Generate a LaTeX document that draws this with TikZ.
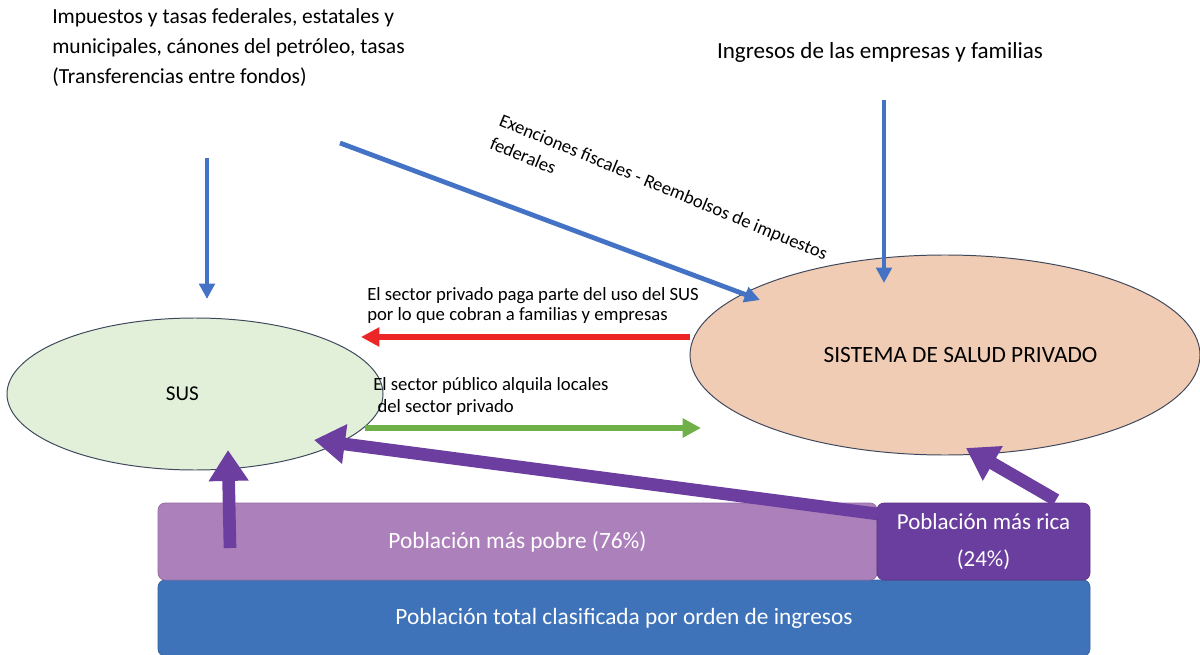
\documentclass[tikz,border=0pt]{standalone}
\usepackage{fontspec}
\setmainfont{Carlito}
\usetikzlibrary{arrows.meta,shapes.geometric,positioning}
\definecolor{flujoazul}{RGB}{68,114,196}
\definecolor{susverde}{RGB}{226,240,217}
\definecolor{privpiel}{RGB}{241,204,181}
\definecolor{borde}{RGB}{62,72,92}
\definecolor{pagorojo}{RGB}{236,38,38}
\definecolor{alquiler}{RGB}{112,176,72}
\definecolor{pobrelila}{RGB}{172,128,186}
\definecolor{ricamorado}{RGB}{106,62,158}
\definecolor{totalazul}{RGB}{62,114,185}
\definecolor{flechamorada}{RGB}{108,62,160}

\begin{document}
\begin{tikzpicture}[x=0.025cm, y=-0.025cm,
  fuente/.style={font=\fontsize{15.3}{21.3}\selectfont, align=left, inner sep=0pt},
  nota/.style={font=\fontsize{13.3}{14.5}\selectfont, align=left, inner sep=0pt},
  sistema/.style={ellipse, draw=borde, line width=0.7pt},
  franja/.style={rounded corners=5pt, draw=#1!85!black, fill=#1, line width=0.5pt, text=white,
    font=\fontsize{16.6}{22}\selectfont, align=center},
  flujo/.style={-{Triangle[length=11pt, width=11pt]}, line width=3.4pt, flujoazul},
  cobro/.style={-{Triangle[length=13pt, width=13pt]}, line width=4pt, #1},
  uso/.style={-{Triangle[length=22pt, width=27pt]}, line width=9pt, flechamorada}]
\useasboundingbox (0,0) rectangle (1200,655);

% fuentes de financiamiento
\node[fuente, anchor=north west] (impuestos) at (52,8)
  {Impuestos y tasas federales, estatales y\\municipales, cánones del petróleo, tasas\\(Transferencias entre fondos)};
\node[fuente, font=\fontsize{16.4}{20}\selectfont, anchor=center] (ingresos) at (880,52) {Ingresos de las empresas y familias};

% sistemas
\node[sistema, fill=susverde, minimum width=376*0.025cm, minimum height=152*0.025cm,
  font=\fontsize{15}{17}\selectfont] (sus) at (195,394) {\hspace*{-18pt}SUS};
\node[sistema, fill=privpiel, minimum width=510*0.025cm, minimum height=200*0.025cm,
  font=\fontsize{16.6}{19}\selectfont] (privado) at (945,355) {\hspace*{22pt}SISTEMA DE SALUD PRIVADO};

% poblacion
\node[franja=totalazul, minimum width=932*0.025cm, minimum height=76*0.025cm] (total) at (624,618)
  {Población total clasificada por orden de ingresos};
\node[franja=pobrelila, minimum width=719*0.025cm, minimum height=77*0.025cm] (pobre) at (517.5,541.5)
  {Población más pobre (76\%)};
\node[franja=ricamorado, minimum width=213*0.025cm, minimum height=77*0.025cm,
  font=\fontsize{16.3}{26}\selectfont] (rica) at (983.5,541.5)
  {Población más rica\\(24\%)};

% flujos de impuestos
\coordinate (imp0) at (207,158);
\coordinate (imp1) at (207,299);
\draw[flujo] (imp0) -- (imp1);
\coordinate (exe0) at (340,143);
\coordinate (exe1) at (760,300);
\draw[flujo] (exe0) -- (exe1);
\node[nota, font=\fontsize{13.2}{17.5}\selectfont, anchor=north west, rotate=-22.5] (exenciones) at (503,113)
  {Exenciones fiscales - Reembolsos de impuestos\\federales};
\coordinate (ing0) at (884,100);
\coordinate (ing1) at (884,283);
\draw[flujo] (ing0) -- (ing1);

% pagos entre sectores
\coordinate (pag0) at (690,337);
\coordinate (pag1) at (361,337);
\draw[cobro=pagorojo] (pag0) -- (pag1);
\node[nota, anchor=south west] (paga) at (367,324)
  {El sector privado paga parte del uso del SUS\\por lo que cobran a familias y empresas};
\coordinate (alq0) at (365,428);
\coordinate (alq1) at (701,428);
\draw[cobro=alquiler] (alq0) -- (alq1);
\node[nota, font=\fontsize{13.3}{16}\selectfont, anchor=south west] (alquila) at (373,416)
  {El sector público alquila locales\\\ del sector privado};

% uso de los servicios
\coordinate (up0) at (230,548);
\coordinate (up1) at (228,450);
\draw[uso] (up0) -- (up1);
\coordinate (ur0) at (878,514);
\coordinate (ur1) at (314,440);
\draw[uso] (ur0) -- (ur1);
\coordinate (ur2) at (1056,500);
\coordinate (ur3) at (966,448);
\draw[uso] (ur2) -- (ur3);
\end{tikzpicture}
\end{document}
